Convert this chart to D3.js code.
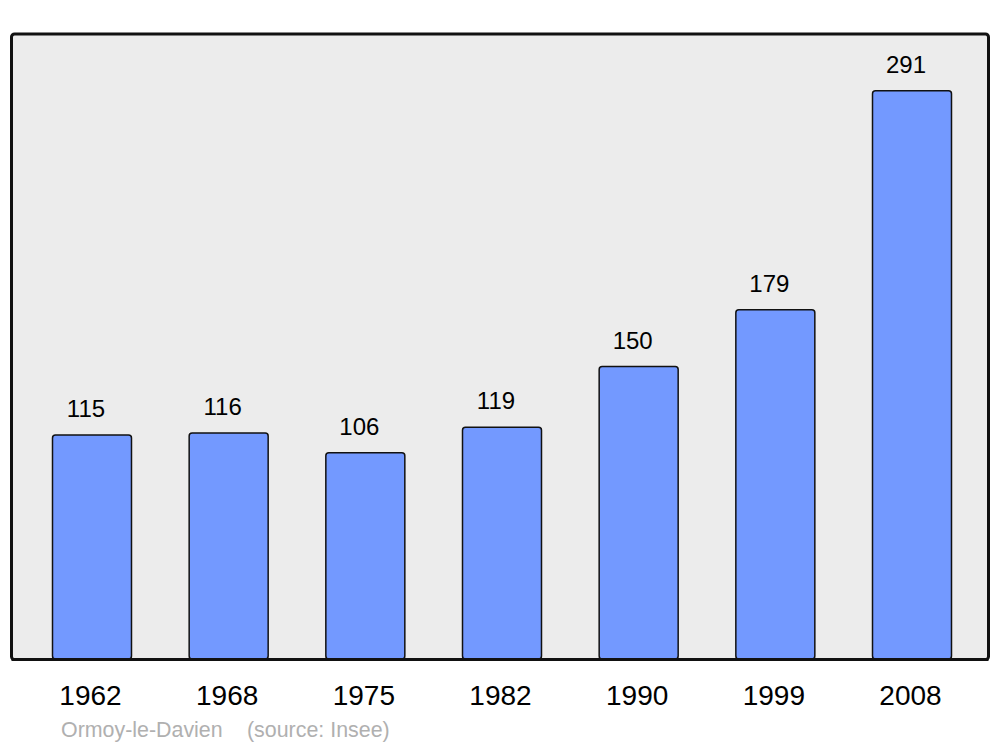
<!DOCTYPE html>
<html><head><meta charset="utf-8">
<script src="https://cdn.jsdelivr.net/npm/d3@7"></script>
<style>body{margin:0;background:#fff}svg{display:block}text{font-family:"Liberation Sans",Arial,sans-serif}</style>
</head><body>
<svg id="c" width="1000" height="747"></svg>
<script>
const years = ["1962","1968","1975","1982","1990","1999","2008"];
const population = [115,116,106,119,150,179,291];
const captionPlace = "Ormoy-le-Davien";
const captionSource = "(source: Insee)";

const svg = d3.select("#c");
const x = d3.scaleBand().domain(years).range([11.5, 992.5]).paddingInner(0.422).paddingOuter(0.3);
const y = d3.scaleLinear().domain([0, 320]).range([660, 34]);

svg.append("rect").attr("x",11.5).attr("y",34).attr("width",977).attr("height",625.5)
  .attr("rx",3).attr("fill","#ececec").attr("stroke","#111").attr("stroke-width",3);

svg.selectAll("rect.bar").data(years).join("rect").attr("class","bar")
  .attr("x", d => x(d)).attr("width", x.bandwidth())
  .attr("y", (d,i) => y(population[i])).attr("height", (d,i) => y(0) - y(population[i]) - 1)
  .attr("rx",3).attr("fill","#7399ff").attr("stroke","#111").attr("stroke-width",1.5);

// redraw bottom frame line over bar bottoms
svg.append("line").attr("x1",11.5).attr("x2",988.5).attr("y1",659.5).attr("y2",659.5)
  .attr("stroke","#111").attr("stroke-width",3);

svg.selectAll("text.val").data(years).join("text").attr("class","val")
  .attr("x", d => x(d) + x.bandwidth()/2 - 6)
  .attr("y", (d,i) => y(population[i]) - 18)
  .attr("text-anchor","middle").attr("font-size",24).attr("fill","#000")
  .text((d,i) => population[i]);

svg.selectAll("text.year").data(years).join("text").attr("class","year")
  .attr("x", d => x(d) + x.bandwidth()/2 - 1.5)
  .attr("y", 705)
  .attr("text-anchor","middle").attr("font-size",28).attr("fill","#000")
  .text(d => d);

svg.append("text").attr("x",61).attr("y",737).attr("font-size",21.4).attr("fill","#b0b0b0")
  .text(captionPlace);
svg.append("text").attr("x",247).attr("y",737).attr("font-size",21.4).attr("fill","#b0b0b0")
  .text(captionSource);
</script>
</body></html>
